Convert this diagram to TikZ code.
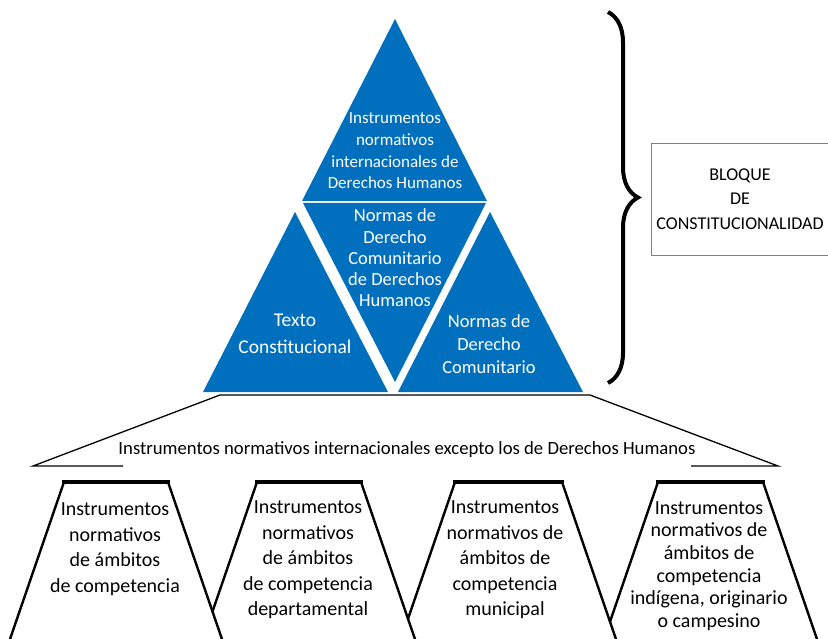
\documentclass[tikz,border=0pt]{standalone}
\usepackage{fontspec}
\setmainfont{Carlito}
\usetikzlibrary{decorations.pathreplacing}
\definecolor{azul}{RGB}{0,112,190}

\begin{document}
\begin{tikzpicture}[x=1pt, y=-1pt]
        \tikzstyle{tt} = [text=white, align=center, inner sep=0pt]
        \tikzstyle{lbl} = [align=center, inner sep=0pt, font=\fontsize{20}{25.5}\selectfont]
        \tikzstyle{trap} = [draw, fill=white, line width=2.4pt, line join=miter]
        \tikzstyle{trtop} = [line width=3.4pt, line cap=rect]

        \useasboundingbox (0,0) rectangle (828,639);
        \clip (0,0) rectangle (828,639);

        % pyramid
        \fill[azul] (395,19) -- (302,201) -- (487,201) -- cycle;
        \fill[azul] (303,203) -- (486,203) -- (395,382) -- cycle;
        \fill[azul] (295,212) -- (203,392) -- (388,392) -- cycle;
        \fill[azul] (490,212) -- (398,392) -- (583,392) -- cycle;

        \node (ddhh) [tt, font=\fontsize{17}{21.7}\selectfont] at (395,151) {Instrumentos\\normativos\\internacionales de\\Derechos Humanos};
        \node (comddhh) [tt, font=\fontsize{18.5}{21.3}\selectfont] at (395,258) {Normas de\\Derecho\\Comunitario\\de Derechos\\Humanos};
        \node (texto) [tt, font=\fontsize{19.5}{26.5}\selectfont] at (295,334) {Texto\\Constitucional};
        \node (comun) [tt, font=\fontsize{18.5}{23}\selectfont] at (489,344) {Normas de\\Derecho\\Comunitario};

        % brace + box
        \draw[decorate, decoration={brace, amplitude=30pt}, line width=4pt] (608,12) -- (608,383);
        \node (bloque) [draw=gray, line width=0.8pt, minimum width=178pt, minimum height=112pt, align=center, font=\fontsize{18}{24.5}\selectfont] at (740,199) {BLOQUE\\DE\\CONSTITUCIONALIDAD};

        % wide base, bottom edge open under the text
        \draw[line width=1.3pt] (123,466) -- (33,466) -- (220,395) -- (590,395) -- (778,466) -- (691,466);
        \node (excepto) [inner sep=0pt, font=\fontsize{18.7}{22}\selectfont] at (407,450) {Instrumentos normativos internacionales excepto los de Derechos Humanos};

        % levels, last one first so each covers the next
        \draw[trap] (658,482) -- (763,482) -- (819,645) -- (602,645) -- cycle;
        \draw[trap] (455,482) -- (562,482) -- (618,645) -- (399,645) -- cycle;
        \draw[trap] (257,482) -- (361,482) -- (417,645) -- (201,645) -- cycle;
        \draw[trap] (64,482) -- (168,482) -- (224,645) -- (8,645) -- cycle;
        \draw[trtop] (658,482) -- (763,482);
        \draw[trtop] (455,482) -- (562,482);
        \draw[trtop] (257,482) -- (361,482);
        \draw[trtop] (64,482) -- (168,482);

        \node (amb1) [lbl] at (115,549) {Instrumentos\\normativos\\de ámbitos\\de competencia};
        \node (amb2) [lbl] at (308,560) {Instrumentos\\normativos\\de ámbitos\\de competencia\\departamental};
        \node (amb3) [lbl] at (505,560) {Instrumentos\\normativos de\\ámbitos de\\competencia\\municipal};
        \node (amb4) [lbl, font=\fontsize{20}{22.6}\selectfont] at (709,566) {Instrumentos\\normativos de\\ámbitos de\\competencia\\indígena, originario\\o campesino};

    \end{tikzpicture}
\end{document}
